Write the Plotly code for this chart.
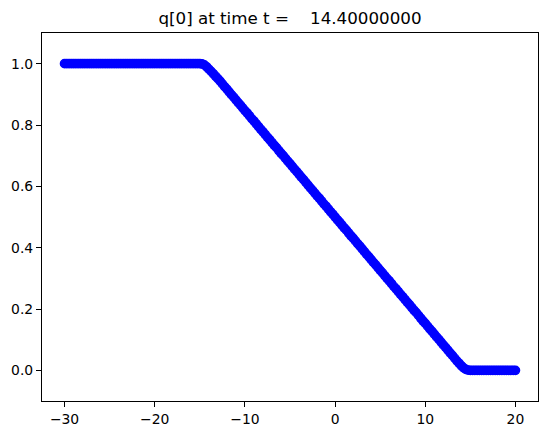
import plotly.graph_objects as go

# Cell centres (read along the x axis)
x_vals = [
    -30.0, -29.75, -29.5, -29.25, -29.0, -28.75, -28.5, -28.25,
    -28.0, -27.75, -27.5, -27.25, -27.0, -26.75, -26.5, -26.25,
    -26.0, -25.75, -25.5, -25.25, -25.0, -24.75, -24.5, -24.25,
    -24.0, -23.75, -23.5, -23.25, -23.0, -22.75, -22.5, -22.25,
    -22.0, -21.75, -21.5, -21.25, -21.0, -20.75, -20.5, -20.25,
    -20.0, -19.75, -19.5, -19.25, -19.0, -18.75, -18.5, -18.25,
    -18.0, -17.75, -17.5, -17.25, -17.0, -16.75, -16.5, -16.25,
    -16.0, -15.75, -15.5, -15.25, -15.0, -14.75, -14.5, -14.25,
    -14.0, -13.75, -13.5, -13.25, -13.0, -12.75, -12.5, -12.25,
    -12.0, -11.75, -11.5, -11.25, -11.0, -10.75, -10.5, -10.25,
    -10.0, -9.75, -9.5, -9.25, -9.0, -8.75, -8.5, -8.25,
    -8.0, -7.75, -7.5, -7.25, -7.0, -6.75, -6.5, -6.25,
    -6.0, -5.75, -5.5, -5.25, -5.0, -4.75, -4.5, -4.25,
    -4.0, -3.75, -3.5, -3.25, -3.0, -2.75, -2.5, -2.25,
    -2.0, -1.75, -1.5, -1.25, -1.0, -0.75, -0.5, -0.25,
    0.0, 0.25, 0.5, 0.75, 1.0, 1.25, 1.5, 1.75,
    2.0, 2.25, 2.5, 2.75, 3.0, 3.25, 3.5, 3.75,
    4.0, 4.25, 4.5, 4.75, 5.0, 5.25, 5.5, 5.75,
    6.0, 6.25, 6.5, 6.75, 7.0, 7.25, 7.5, 7.75,
    8.0, 8.25, 8.5, 8.75, 9.0, 9.25, 9.5, 9.75,
    10.0, 10.25, 10.5, 10.75, 11.0, 11.25, 11.5, 11.75,
    12.0, 12.25, 12.5, 12.75, 13.0, 13.25, 13.5, 13.75,
    14.0, 14.25, 14.5, 14.75, 15.0, 15.25, 15.5, 15.75,
    16.0, 16.25, 16.5, 16.75, 17.0, 17.25, 17.5, 17.75,
    18.0, 18.25, 18.5, 18.75, 19.0, 19.25, 19.5, 19.75,
    20.0,
]

# q[0] values
q0_vals = [
    1.0, 1.0, 1.0, 1.0, 1.0, 1.0, 1.0, 1.0,
    1.0, 1.0, 1.0, 1.0, 1.0, 1.0, 1.0, 1.0,
    1.0, 1.0, 1.0, 1.0, 1.0, 1.0, 1.0, 1.0,
    1.0, 1.0, 1.0, 1.0, 1.0, 1.0, 1.0, 1.0,
    1.0, 1.0, 1.0, 1.0, 1.0, 1.0, 1.0, 1.0,
    1.0, 1.0, 1.0, 1.0, 1.0, 1.0, 1.0, 1.0,
    1.0, 1.0, 1.0, 1.0, 1.0, 1.0, 1.0, 1.0,
    1.0, 1.0, 1.0, 1.0, 1.0, 0.999, 0.996, 0.990,
    0.982, 0.975, 0.967, 0.959, 0.951, 0.943, 0.934, 0.925,
    0.917, 0.908, 0.899, 0.891, 0.882, 0.873, 0.865, 0.856,
    0.847, 0.839, 0.830, 0.821, 0.813, 0.804, 0.795, 0.786,
    0.778, 0.769, 0.760, 0.752, 0.743, 0.734, 0.726, 0.717,
    0.708, 0.700, 0.691, 0.682, 0.674, 0.665, 0.656, 0.648,
    0.639, 0.630, 0.622, 0.613, 0.604, 0.595, 0.587, 0.578,
    0.569, 0.561, 0.552, 0.543, 0.535, 0.526, 0.517, 0.509,
    0.500, 0.491, 0.483, 0.474, 0.465, 0.457, 0.448, 0.439,
    0.431, 0.422, 0.413, 0.405, 0.396, 0.387, 0.378, 0.370,
    0.361, 0.352, 0.344, 0.335, 0.326, 0.318, 0.309, 0.300,
    0.292, 0.283, 0.274, 0.266, 0.257, 0.248, 0.240, 0.231,
    0.222, 0.214, 0.205, 0.196, 0.188, 0.179, 0.170, 0.161,
    0.153, 0.144, 0.135, 0.127, 0.118, 0.109, 0.101, 0.092,
    0.083, 0.075, 0.066, 0.057, 0.049, 0.040, 0.031, 0.023,
    0.015, 0.008, 0.003, 0.001, 0.0, 0.0, 0.0, 0.0,
    0.0, 0.0, 0.0, 0.0, 0.0, 0.0, 0.0, 0.0,
    0.0, 0.0, 0.0, 0.0, 0.0, 0.0, 0.0, 0.0,
    0.0,
]

x_ticks = [-30, -20, -10, 0, 10, 20]
y_ticks = [0.0, 0.2, 0.4, 0.6, 0.8, 1.0]
title_text = "q[0] at time t =\u00a0\u00a0\u00a0\u00a014.40000000"

fig = go.Figure()
fig.add_trace(go.Scatter(
    x=x_vals, y=q0_vals, mode="markers",
    marker=dict(color="#0000ff", size=8.3, line=dict(color="#0000ff", width=1.4)),
    showlegend=False, hoverinfo="x+y",
))

axis_common = dict(
    showline=True, linecolor="black", linewidth=1.1, mirror=True,
    ticks="outside", ticklen=5, tickwidth=1.1, tickcolor="black",
    showgrid=False, zeroline=False, automargin=False,
    tickfont=dict(family="DejaVu Sans", size=13.9, color="black"),
)

fig.update_layout(
    width=547, height=435,
    margin=dict(l=42, r=9, t=33, b=34, autoexpand=False),
    paper_bgcolor="white", plot_bgcolor="white",
    font=dict(family="DejaVu Sans", color="black"),
    title=dict(
        text=title_text,
        font=dict(family="DejaVu Sans", size=16.7, color="black"),
        x=0.5, xanchor="center", xref="paper",
        y=1 - 18 / 435, yanchor="middle", yref="container",
    ),
    xaxis=dict(range=[-32.5, 22.5], tickvals=x_ticks, **axis_common),
    yaxis=dict(range=[-0.1, 1.1], tickvals=y_ticks, tickformat=".1f", **axis_common),
)

fig.write_html(
    "out.html",
    config={"displayModeBar": False},
    post_script="document.body.style.margin='0';document.body.style.overflow='hidden';",
)
